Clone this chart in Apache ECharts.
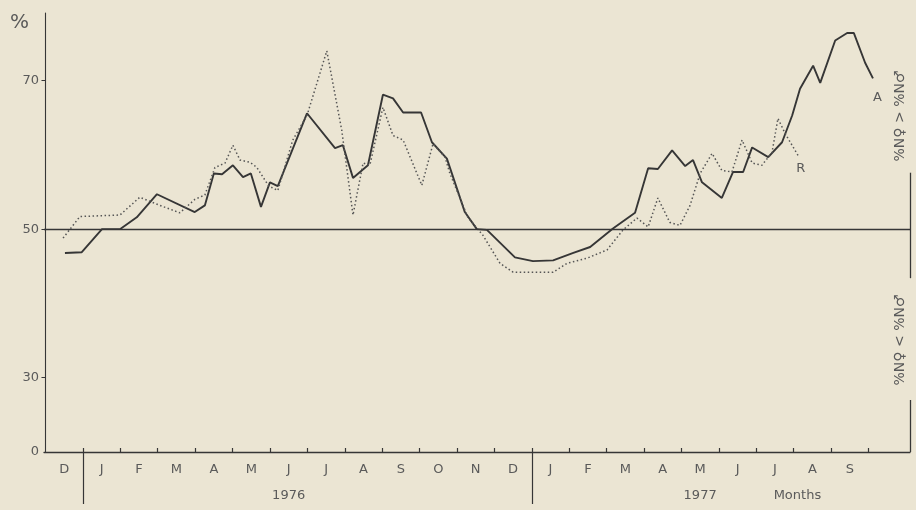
<!DOCTYPE html>
<html>
<head>
<meta charset="utf-8">
<script src="https://cdn.jsdelivr.net/npm/echarts@6/dist/echarts.min.js"></script>
<style>
html,body{margin:0;padding:0;background:#ebe5d3;}
#chart{width:916px;height:510px;}
</style>
</head>
<body>
<div id="chart"></div>
<script>
// Month letters (Dec 1975 ... Sep 1977), centred at month midpoints (0 = start of Dec 1975)
const monthLabels = ['D','J','F','M','A','M','J','J','A','S','O','N','D','J','F','M','A','M','J','J','A','S'];
const monthBoundaries = [1,2,3,4,5,6,7,8,9,10,11,12,13,14,15,16,17,18,19,20,21,22];
const yearBreaks = [1, 13];
const yearLabels = ['1976', '1977', 'Months'];
const yearLabelPos = [6.5, 17.5, 20.1];

// y axis: linear 30..70, the bottom of the axis (broken) is labelled 0
const yTickValues = [30, 50, 70];
const yAxisBottom = 20;
const yAxisBottomLabel = '0';
const referenceLevel = 50;

// Curve A (solid)
const aMonth = [0.52,0.97,1.51,1.99,2.44,2.98,3.99,4.26,4.5,4.72,5.01,5.28,5.49,5.76,6.0,6.21,6.99,7.74,7.95,8.22,8.62,9.02,9.29,9.56,10.04,10.33,10.73,11.21,11.53,11.8,12.55,13.03,13.57,14.11,14.56,15.17,15.76,16.11,16.37,16.75,17.1,17.31,17.55,18.08,18.38,18.65,18.89,19.32,19.69,19.96,20.17,20.52,20.71,21.11,21.43,21.61,21.91,22.12];
const aValue = [46.8,46.9,50.0,50.0,51.6,54.7,52.3,53.2,57.5,57.4,58.6,57.0,57.5,53.0,56.3,55.8,65.6,60.9,61.3,56.9,58.6,68.1,67.6,65.7,65.7,61.7,59.5,52.3,50.0,49.9,46.2,45.7,45.8,46.8,47.6,50.1,52.2,58.2,58.1,60.6,58.5,59.3,56.3,54.2,57.7,57.7,61.0,59.7,61.7,65.3,68.9,72.0,69.7,75.4,76.4,76.4,72.4,70.3];

// Curve R (dotted)
const rMonth = [0.47,0.92,1.99,2.52,3.06,3.59,3.99,4.26,4.53,4.8,5.01,5.2,5.47,5.65,5.97,6.21,6.61,6.99,7.52,7.92,8.22,8.49,8.67,9.02,9.29,9.56,10.06,10.36,10.68,10.81,11.29,11.69,12.15,12.5,13.57,13.94,14.48,15.01,15.44,15.81,16.11,16.37,16.69,16.96,17.23,17.5,17.82,18.08,18.35,18.62,18.89,19.15,19.42,19.58,19.77,20.12];
const rValue = [48.8,51.7,51.9,54.3,53.2,52.2,54.0,54.6,58.3,58.9,61.3,59.3,59.0,58.3,55.8,55.2,62.0,65.3,74.0,63.3,51.9,58.9,58.6,66.4,62.6,62.0,55.9,61.5,59.7,57.5,51.6,49.2,45.4,44.2,44.2,45.4,46.1,47.2,49.9,51.5,50.3,54.2,50.9,50.5,53.2,57.5,60.2,57.9,57.7,62.0,58.9,58.6,60.3,64.9,62.9,59.9];

// Right-hand annotation
const upperNote = '%N\u2640 > %N\u2642';
const lowerNote = '%N\u2640 < %N\u2642';
const bracketUpper = [57.6, 43.4];
const bracketLower = [27.0, 20.0];

const xMin = -0.04, xMax = 23.11;
const ink = '#363636';
const textCol = '#5a5a5a';
const font = 'DejaVu Sans';

const chart = echarts.init(document.getElementById('chart'));
const zipPts = (xs, ys) => xs.map((x, i) => [x, ys[i]]);

chart.setOption({
  backgroundColor: '#ebe5d3',
  animation: false,
  grid: {left: 44, right: 6, top: 13, bottom: 58},
  xAxis: [
    {
      type: 'value', min: xMin, max: xMax, position: 'bottom',
      splitLine: {show: false},
      axisLine: {show: true, lineStyle: {color: ink, width: 1.3}},
      axisTick: {show: true, inside: true, length: 4, customValues: monthBoundaries, lineStyle: {color: ink, width: 1.2}},
      axisLabel: {
        show: true, margin: 11, fontSize: 13, fontFamily: font, color: textCol,
        customValues: monthLabels.map((_, i) => i + 0.5),
        formatter: v => monthLabels[Math.round(v - 0.5)]
      }
    },
    {
      type: 'value', min: xMin, max: xMax, position: 'bottom', gridIndex: 0,
      splitLine: {show: false},
      axisLine: {show: false},
      axisTick: {show: true, inside: false, length: 52, customValues: yearBreaks, lineStyle: {color: ink, width: 1.2}},
      axisLabel: {
        show: true, margin: 37, fontSize: 13, fontFamily: font, color: textCol,
        customValues: yearLabelPos,
        formatter: v => yearLabels[yearLabelPos.indexOf(v)]
      }
    }
  ],
  yAxis: {
    type: 'value', min: yAxisBottom, max: 79.1,
    splitLine: {show: false},
    axisLine: {show: true, lineStyle: {color: ink, width: 1.1}},
    axisTick: {show: true, inside: false, length: 4, customValues: yTickValues, lineStyle: {color: ink}},
    axisLabel: {
      show: true, margin: 5, fontSize: 13, fontFamily: font, color: textCol,
      customValues: [yAxisBottom].concat(yTickValues),
      formatter: v => v === yAxisBottom ? yAxisBottomLabel : String(v)
    }
  },
  graphic: [
    {type: 'text', left: 10, top: 13, style: {text: '%', fontSize: 20, fontFamily: font, fill: textCol}},
    {type: 'text', x: 900, y: 116, rotation: Math.PI / 2,
      style: {text: upperNote, fontSize: 14, fontFamily: font, fill: textCol, align: 'center', verticalAlign: 'middle'}},
    {type: 'text', x: 900, y: 340, rotation: Math.PI / 2,
      style: {text: lowerNote, fontSize: 14, fontFamily: font, fill: textCol, align: 'center', verticalAlign: 'middle'}}
  ],
  series: [
    {
      name: 'A', type: 'line', data: zipPts(aMonth, aValue),
      showSymbol: false, symbol: 'none',
      lineStyle: {color: ink, width: 1.9},
      endLabel: {show: true, formatter: 'A', fontSize: 13, fontFamily: font, color: textCol, offset: [-8, 19]},
      markLine: {
        silent: true, symbol: 'none', label: {show: false},
        lineStyle: {color: ink, width: 1.3, type: 'solid'},
        data: [
          [{coord: [xMin, referenceLevel]}, {coord: [xMax, referenceLevel]}],
          [{coord: [xMax, bracketUpper[0]]}, {coord: [xMax, bracketUpper[1]]}],
          [{coord: [xMax, bracketLower[0]]}, {coord: [xMax, bracketLower[1]]}]
        ]
      }
    },
    {
      name: 'R', type: 'line', data: zipPts(rMonth, rValue),
      showSymbol: false, symbol: 'none',
      lineStyle: {color: '#555', width: 1.5, type: [1.5, 2.5]},
      endLabel: {show: true, formatter: 'R', fontSize: 13, fontFamily: font, color: textCol, offset: [-10, 13]}
    }
  ]
});
</script>
</body>
</html>
